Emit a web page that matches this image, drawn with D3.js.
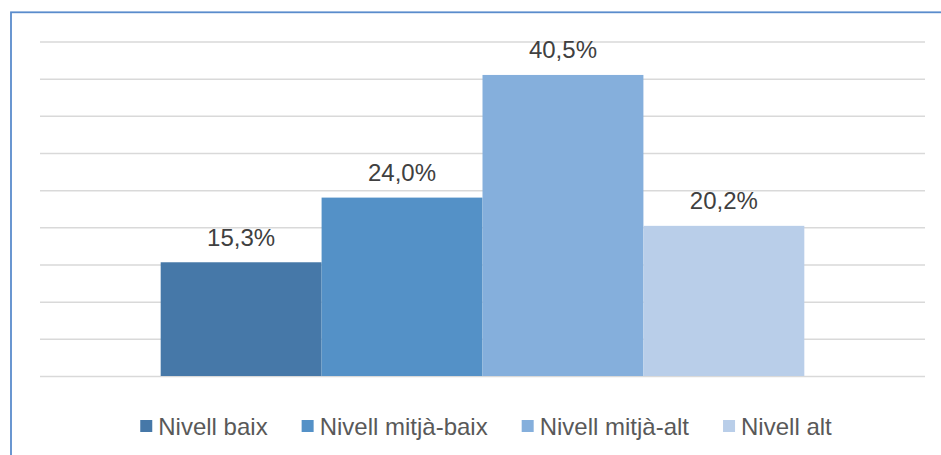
<!DOCTYPE html>
<html>
<head>
<meta charset="utf-8">
<script src="https://cdn.jsdelivr.net/npm/d3@7"></script>
<style>
  body { margin: 0; background: #fff; }
  svg { display: block; font-family: "Liberation Sans", Arial, sans-serif; }
</style>
</head>
<body>
<div id="chart"></div>
<script>
const series = ["Nivell baix", "Nivell mitjà-baix", "Nivell mitjà-alt", "Nivell alt"];
const values = [15.3, 24.0, 40.5, 20.2];
const colors = ["#4678a8", "#5491c7", "#85afdc", "#b9cee9"];
const gridTicks = [0, 5, 10, 15, 20, 25, 30, 35, 40, 45];

const w = 941;
const h = 455;
const margin = { top: 41.5, right: 16, bottom: 79, left: 40 };

const svg = d3.select("#chart")
  .append("svg")
  .attr("width", w)
  .attr("height", h);

// chart frame (only top and left edges fall inside the picture)
svg.append("rect")
  .attr("x", 11)
  .attr("y", 12.3)
  .attr("width", 1000)
  .attr("height", 1000)
  .attr("fill", "none")
  .attr("stroke", "#5a8ccc")
  .attr("stroke-width", 1.8);

const xScale = d3.scaleBand()
  .domain(series)
  .range([margin.left, w - margin.right])
  .paddingInner(0)
  .paddingOuter(0.75);

const yScale = d3.scaleLinear()
  .domain([0, 45])
  .range([h - margin.bottom, margin.top]);

const grid = d3.axisLeft(yScale)
  .tickValues(gridTicks)
  .tickSize(-(w - margin.left - margin.right))
  .tickFormat("");

svg.append("g")
  .attr("class", "grid")
  .attr("transform", `translate(${margin.left}, 0)`)
  .call(grid)
  .call(g => g.select(".domain").remove())
  .call(g => g.selectAll("line").attr("stroke", "#d9d9d9").attr("stroke-width", 1.5));

svg.selectAll("rect.bar")
  .data(values)
  .enter()
  .append("rect")
  .attr("class", "bar")
  .attr("x", (d, i) => xScale(series[i]))
  .attr("y", d => yScale(d))
  .attr("width", xScale.bandwidth())
  .attr("height", d => yScale(0) - yScale(d))
  .attr("fill", (d, i) => colors[i]);

svg.selectAll("text.label")
  .data(values)
  .enter()
  .append("text")
  .attr("class", "label")
  .attr("x", (d, i) => xScale(series[i]) + xScale.bandwidth() / 2)
  .attr("y", d => yScale(d) - 16.5)
  .attr("text-anchor", "middle")
  .style("font-size", "24px")
  .style("fill", "#404040")
  .text(d => d.toFixed(1).replace(".", ",") + "%");

// legend
const legend = svg.append("g").attr("id", "legend");
const items = legend.selectAll("g")
  .data(series)
  .enter()
  .append("g");

items.append("rect")
  .attr("width", 12)
  .attr("height", 12)
  .attr("y", -6)
  .attr("fill", (d, i) => colors[i]);

items.append("text")
  .attr("x", 18)
  .attr("y", 9)
  .style("font-size", "24px")
  .style("fill", "#595959")
  .text(d => d);

const gap = 34;
let xPos = 0;
items.each(function () {
  const item = d3.select(this);
  item.attr("transform", `translate(${xPos}, 0)`);
  xPos += 18 + item.select("text").node().getComputedTextLength() + gap;
});
const legendWidth = xPos - gap;
legend.attr("transform", `translate(${486 - legendWidth / 2}, 426)`);
</script>
</body>
</html>
